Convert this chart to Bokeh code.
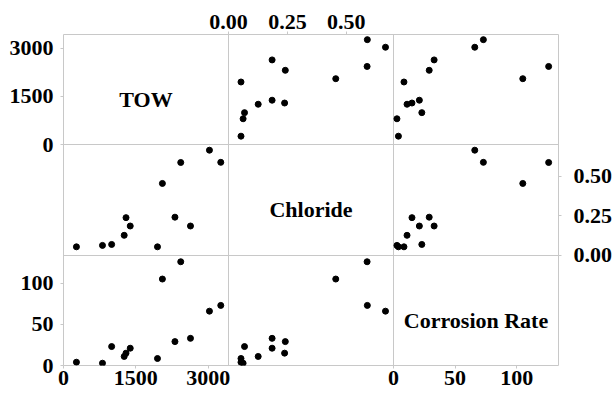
from bokeh.plotting import figure
from bokeh.models import LinearAxis, FixedTicker, Range1d, Label
from bokeh.embed import file_html
from bokeh.resources import INLINE

# ---- data ----
variables = ["TOW", "Chloride", "Corrosion Rate"]
tow = [268, 808, 998, 1258, 1296, 1383, 1948, 2050, 2310, 2430, 2632, 3025, 3260]
chloride = [0.053, 0.062, 0.068, 0.126, 0.238, 0.185, 0.053, 0.455, 0.241, 0.588, 0.185, 0.666, 0.589]
corrosion = [4.0, 2.8, 23, 11, 15, 21, 8.5, 105, 29, 126, 33, 66, 73]
tow_ticks = [0, 1500, 3000]
chloride_ticks = [0, 0.25, 0.5]
corrosion_ticks = [0, 50, 100]
tow_labels = ["0", "1500", "3000"]
chloride_labels = ["0.00", "0.25", "0.50"]
corrosion_labels = ["0", "50", "100"]

series = [tow, chloride, corrosion]
ticks = [tow_ticks, chloride_ticks, corrosion_ticks]
tick_labels = [tow_labels, chloride_labels, corrosion_labels]
limits = [(0, 3420), (0, 0.70), (0, 134)]

GRAY = "#c8c8c8"
FONT = "Liberation Serif"
N = 3

p = figure(width=615, height=394, x_range=Range1d(0, N), y_range=Range1d(0, N),
           x_axis_location=None, y_axis_location=None,
           toolbar_location=None, output_backend="svg",
           min_border_left=63, min_border_right=57,
           min_border_top=34, min_border_bottom=29)
p.background_fill_color = "white"
p.border_fill_color = "white"
p.outline_line_color = GRAY
p.outline_line_width = 1
p.xgrid.ticker = FixedTicker(ticks=[1, 2])
p.ygrid.ticker = FixedTicker(ticks=[1, 2])
p.grid.grid_line_color = GRAY
p.grid.grid_line_width = 1

# one data range per panel column / row, placed in its third of the frame
for k in range(N):
    lo, hi = limits[k]
    s = hi - lo
    col = k
    p.extra_x_ranges[f"x{k}"] = Range1d(lo - col * s, hi + (N - 1 - col) * s)
    slot = N - 1 - k  # rows counted from the bottom
    p.extra_y_ranges[f"y{k}"] = Range1d(lo - slot * s, hi + (N - 1 - slot) * s)

for r in range(N):
    for c in range(N):
        if r == c:
            lo, hi = limits[r]
            p.add_layout(Label(x=(lo + hi) / 2, y=lo + 0.41 * (hi - lo),
                               x_range_name=f"x{c}", y_range_name=f"y{r}",
                               text=variables[r], text_align="center",
                               text_baseline="middle", text_font=FONT,
                               text_font_style="bold", text_font_size="22px",
                               text_color="black"))
        else:
            p.scatter(x=series[c], y=series[r], size=6, color="black",
                      x_range_name=f"x{c}", y_range_name=f"y{r}")


def slot_ticks(pairs):
    """pairs: (variable index, slot from low end) -> positions on the 0..3 range and labels"""
    pos, overrides = [], {}
    for k, slot in pairs:
        lo, hi = limits[k]
        for v, lab in zip(ticks[k], tick_labels[k]):
            t = round(slot + (v - lo) / (hi - lo), 9)
            pos.append(t)
            overrides[t] = lab
    return pos, overrides


def make_axis(pairs, standoff, **kw):
    pos, overrides = slot_ticks(pairs)
    ax = LinearAxis(ticker=FixedTicker(ticks=pos), major_label_overrides=overrides, **kw)
    ax.axis_line_color = None
    ax.major_tick_line_color = GRAY
    ax.major_tick_in = 0
    ax.major_tick_out = 3
    ax.minor_tick_line_color = None
    ax.major_label_text_font = FONT
    ax.major_label_text_font_style = "bold"
    ax.major_label_text_font_size = "22px"
    ax.major_label_text_color = "black"
    ax.major_label_standoff = standoff
    return ax


# left: TOW (top row, slot 2) and Corrosion Rate (bottom row, slot 0)
p.add_layout(make_axis([(0, 2), (2, 0)], 7), "left")
# right: Chloride (middle row, slot 1)
p.add_layout(make_axis([(1, 1)], 12), "right")
# bottom: TOW (column 0) and Corrosion Rate (column 2)
p.add_layout(make_axis([(0, 0), (2, 2)], 2), "below")
# top: Chloride (column 1)
p.add_layout(make_axis([(1, 1)], 3), "above")

open("out.html", "w").write(file_html(p, INLINE))
